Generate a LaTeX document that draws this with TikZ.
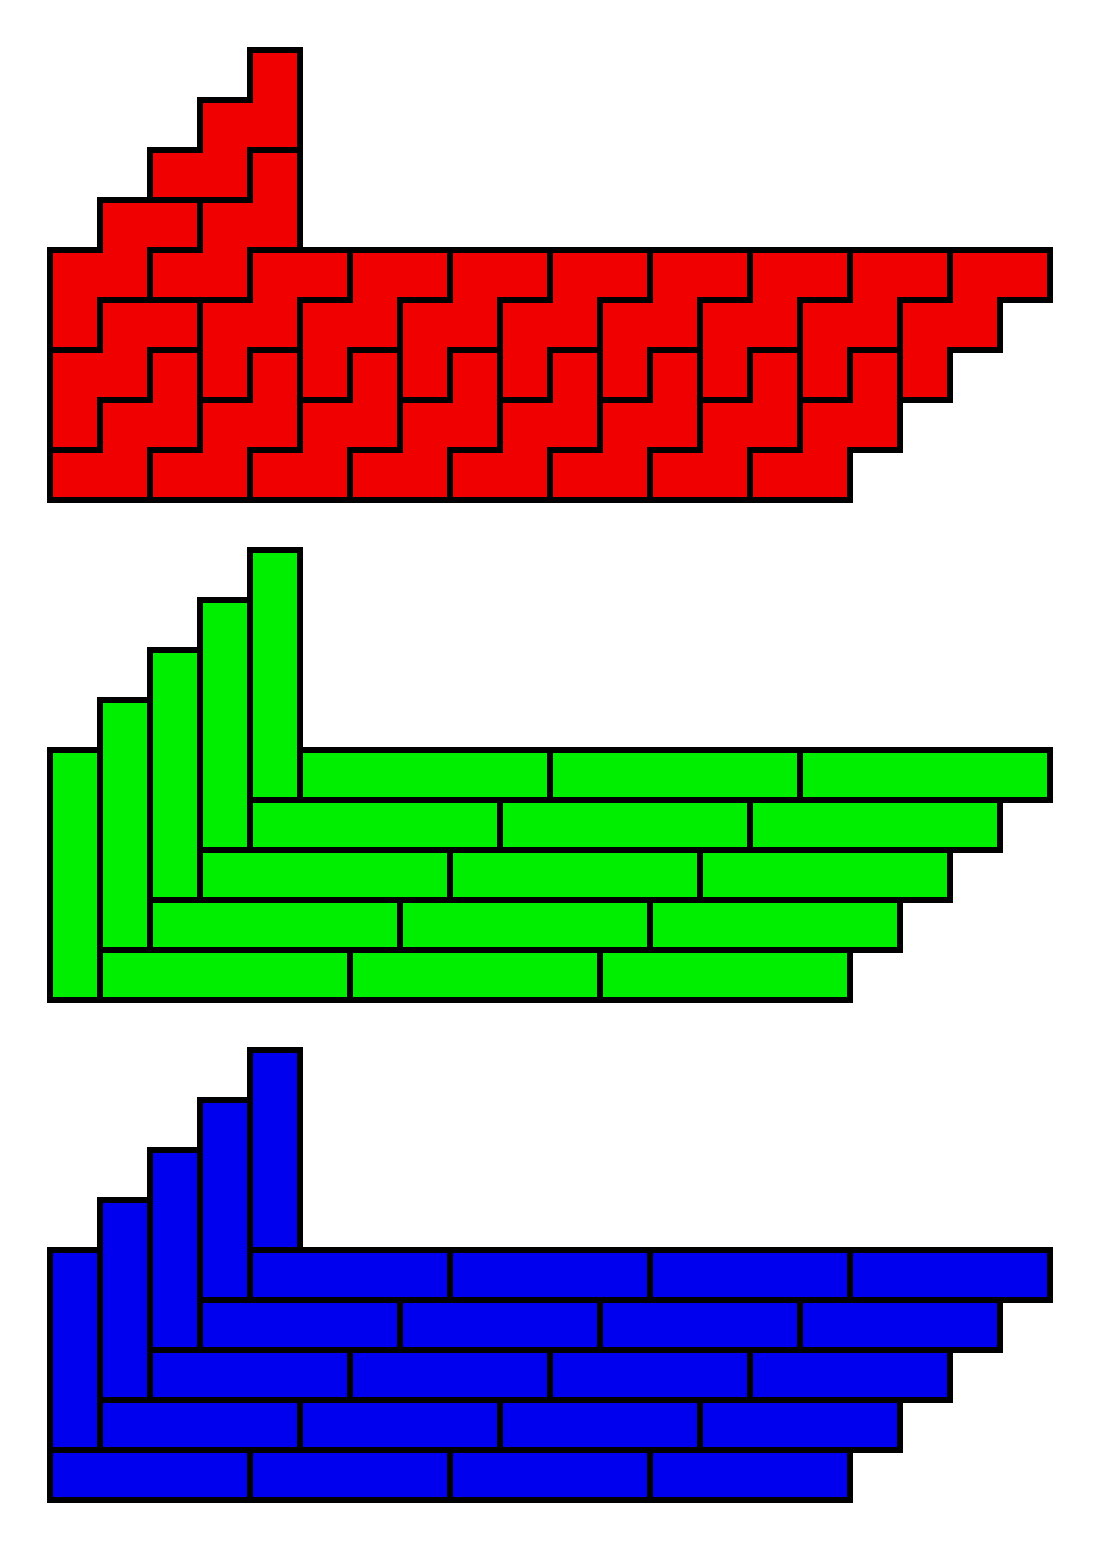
\documentclass[tikz,border=0pt]{standalone}
\definecolor{tred}{RGB}{240,0,0}
\definecolor{tgreen}{RGB}{0,238,0}
\definecolor{tblue}{RGB}{0,0,238}
\tikzset{
  tile/.style={draw=black, line width=3pt, line join=miter},
  redtile/.style={tile, fill=tred},
  greentile/.style={tile, fill=tgreen},
  bluetile/.style={tile, fill=tblue}
}
% W pentomino, vertical step first: cells (c,r),(c,r+1),(c-1,r+1),(c-1,r+2),(c-2,r+2)
\newcommand{\wvert}[2]{\filldraw[redtile] (#1,#2) -- ({#1+1},#2) -- ({#1+1},{#2+2}) -- (#1,{#2+2}) -- (#1,{#2+3}) -- ({#1-2},{#2+3}) -- ({#1-2},{#2+2}) -- ({#1-1},{#2+2}) -- ({#1-1},{#2+1}) -- (#1,{#2+1}) -- cycle;}
% W pentomino, horizontal step first: cells (c+1,r),(c,r),(c,r+1),(c-1,r+1),(c-1,r+2)
\newcommand{\whor}[2]{\filldraw[redtile] (#1,#2) -- ({#1+2},#2) -- ({#1+2},{#2+1}) -- ({#1+1},{#2+1}) -- ({#1+1},{#2+2}) -- (#1,{#2+2}) -- (#1,{#2+3}) -- ({#1-1},{#2+3}) -- ({#1-1},{#2+1}) -- (#1,{#2+1}) -- cycle;}
\begin{document}
\begin{tikzpicture}
\useasboundingbox (0,0) rectangle (22,31);
% Red: W pentominoes
\begin{scope}[shift={(1,30)},yscale=-1]
  \wvert{4}{0}
  \wvert{4}{2}
  \whor{1}{3}
  \whor{1}{5}
  \foreach \c in {4,6,...,18} {\whor{\c}{4}}
  \foreach \c in {2,4,...,16} {\wvert{\c}{6}}
\end{scope}
% Green: I pentominoes
\begin{scope}[shift={(1,20)},yscale=-1]
  \foreach \k in {0,...,4} {\filldraw[greentile] (\k,{4-\k}) rectangle ({\k+1},{9-\k});}
  \foreach \r in {4,...,8} {
    \foreach \j in {0,1,2} {
      \filldraw[greentile] ({9-\r+5*\j},\r) rectangle ({14-\r+5*\j},{\r+1});
    }
  }
\end{scope}
% Blue: I tetrominoes
\begin{scope}[shift={(1,10)},yscale=-1]
  \foreach \k in {0,...,4} {\filldraw[bluetile] (\k,{4-\k}) rectangle ({\k+1},{8-\k});}
  \foreach \r in {4,...,8} {
    \foreach \j in {0,1,2,3} {
      \filldraw[bluetile] ({8-\r+4*\j},\r) rectangle ({12-\r+4*\j},{\r+1});
    }
  }
\end{scope}
\end{tikzpicture}
\end{document}
